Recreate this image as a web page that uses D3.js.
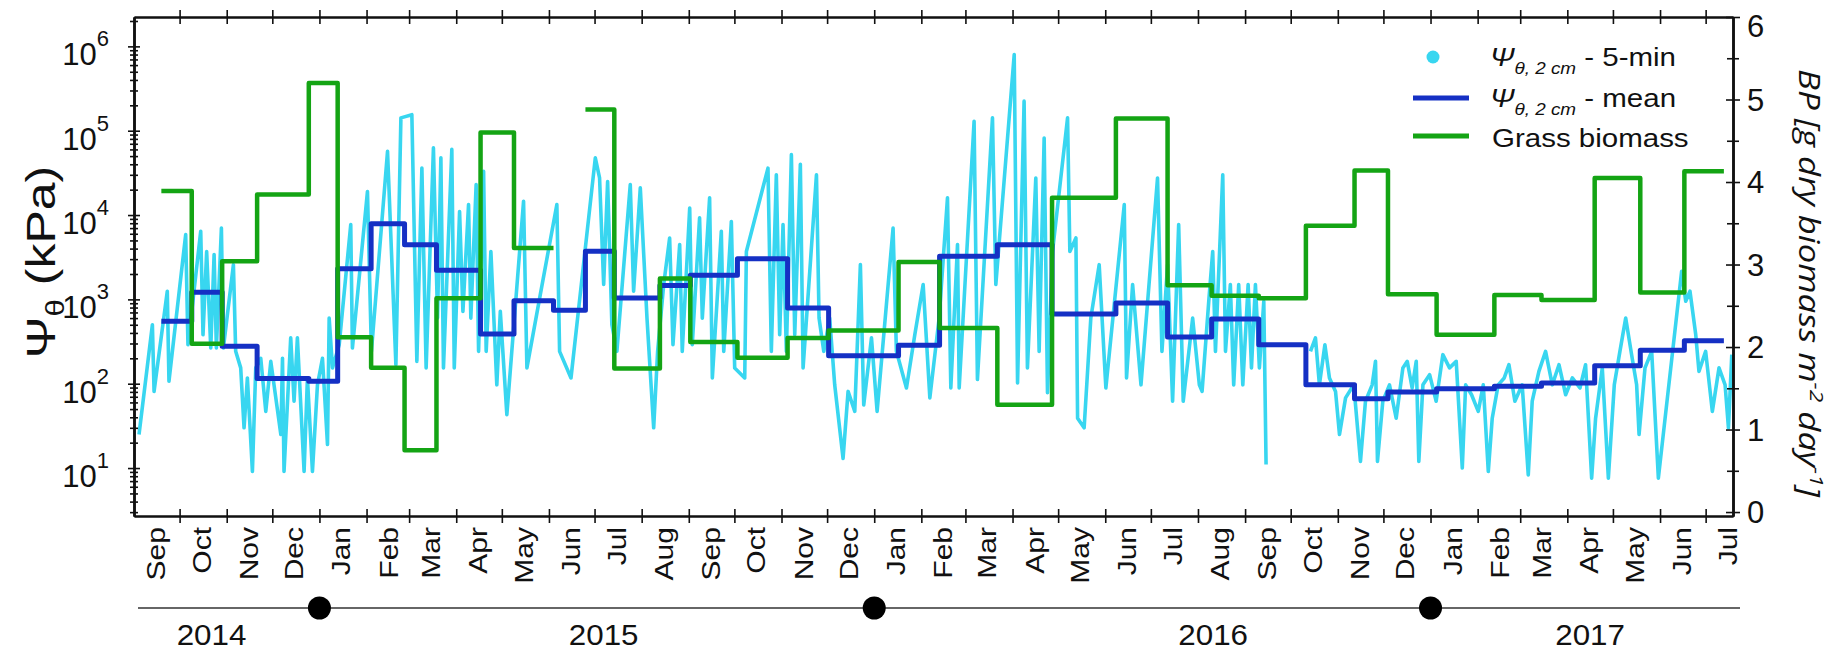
<!DOCTYPE html>
<html>
<head>
<meta charset="utf-8">
<script src="https://cdn.jsdelivr.net/npm/d3@7"></script>
<style>
  html, body { margin: 0; padding: 0; background: #ffffff; }
  svg { display: block; }
</style>
</head>
<body>
<svg id="chart" width="1845" height="653"></svg>
<script>
// ---- Time frame -----------------------------------------------------------
const recordStart = "2014-09-01";
const recordEnd = "2017-07-19";

// Sampling periods (boundaries) shared by the mean potential and the biomass series
const periodBounds = [
  "2014-09-19","2014-10-09","2014-10-29","2014-11-21","2014-12-25","2015-01-13",
  "2015-02-04","2015-02-26","2015-03-19","2015-04-17","2015-05-09","2015-06-04",
  "2015-06-25","2015-07-14","2015-08-13","2015-09-02","2015-10-03","2015-11-05",
  "2015-12-02","2016-01-17","2016-02-13","2016-03-22","2016-04-27","2016-06-08",
  "2016-07-12","2016-08-10","2016-09-10","2016-10-11","2016-11-12","2016-12-04",
  "2017-01-05","2017-02-12","2017-03-15","2017-04-19","2017-05-19","2017-06-17",
  "2017-07-13"
];

// Mean soil water potential at 2 cm for each period (kPa)
const meanKPa = [
  550, 1214, 278, 115, 107, 2312, 7907, 4457, 2213, 389, 966, 742,
  3717, 1040, 1462, 1932, 3040, 791, 215, 285, 3246, 4457, 671, 906,
  358, 585, 290, 97.3, 66.4, 79.7, 87.3, 93.1, 101.8, 163.6, 249, 324
];

// Grass biomass production for each period (g dry biomass m^-2 day^-1); null = no harvest
const biomassBP = [
  3.89, 2.04, 3.04, 3.85, 5.20, 2.12, 1.75, 0.75, 2.59, 4.60, 3.20, null,
  4.88, 1.74, 2.83, 2.06, 1.87, 2.11, 2.20, 3.03, 2.23, 1.30, 3.81, 4.77,
  2.75, 2.62, 2.59, 3.47, 4.14, 2.64, 2.15, 2.63, 2.57, 4.05, 2.66, 4.13
];

// 5-min potential record, turning points of the drying/wetting cycles
// (days since 2014-09-01, kPa); null marks a gap in the logger record
const cyanDay = [
  3.3,12.1,13.2,21.9,23.0,34.0,35.5,43.9,45.4,47.8,50.5,52.7,54.2,57.5,58.8,65.4,66.9,70.2,72.4,74.6,
  77.9,80.1,83.4,86.7,90.0,96.6,97.7,98.7,103.1,105.3,107.5,111.9,114.1,117.4,120.7,124.0,127.3,128.4,130.6,135.0,
  142.6,143.7,153.6,156.2,166.8,172.3,175.6,
  182.8,186.1,189.4,192.2,197.0,199.7,201.9,203.6,209.1,210.7,214.2,216.4,220.1,221.6,225.1,226.7,230.0,231.7,234.8,238.7,
  241.0,245.3,256.3,258.5,267.3,278.2,280.0,287.5,303.5,306.3,309.0,311.6,314.4,317.7,326.5,328.7,333.1,337.5,341.9,344.5,348.5,
  352.4,354.6,359.0,360.7,365.6,367.3,372.1,373.9,378.7,380.5,386.4,388.0,393.0,395.2,401.8,402.9,417.1,419.3,422.6,424.8,
  427.0,429.2,432.5,434.7,438.4,440.2,449.0,450.7,453.8,457.7,461.0,466.5,469.8,474.2,477.9,480.1,485.2,488.9,499.4,501.6,
  508.2,513.7,519.2,523.6,
  529.7,535.2,537.4,541.8,542.9,552.7,554.9,564.8,567.0,579.1,581.3,585.6,587.8,593.3,595.5,598.8,601.0,604.3,614.2,615.7,
  619.7,620.8,625.1,629.5,635.0,639.4,651.5,653.0,657.0,662.5,673.4,676.3,680.0,683.3,687.3,690.3,696.5,700.9,
  702.7,707.1,709.7,711.5,716.3,718.1,721.3,723.5,726.8,729.5,733.0,735.2,737.8,740.4,743.3,744.8,760.0,774.0,777.3,779.9,
  783.5,786.5,790.5,793.1,797.1,802.5,806.9,810.2,814.6,816.8,818.1,821.6,826.0,830.4,834.8,837.7,840.9,843.6,845.3,848.0,
  852.4,856.7,861.1,865.5,869.9,873.9,876.1,
  880.0,884.4,887.7,891.0,893.6,897.5,901.5,904.6,908.5,913.3,917.3,919.9,924.3,928.7,933.1,937.5,941.9,946.3,951.3,955.0,
  959.0,961.6,966.0,970.0,973.9,977.6,981.4,985.3,988.6,990.2,994.1,998.5,1002.9,1018.2,1020.9,1023.7,1027.5,1029.6,1034.0,1038.4,
  1042.8,1046.8,1049.0,1051.2
];
const cyanKPa = [
  25,500,81,1250,107,5860,290,6420,380,3700,265,3400,265,7000,265,2580,242,154,30,117,
  9.1,154,200,47,184,25,200,9.1,350,62,350,9.1,117,9.1,97,200,19,600,154,290,
  7700,265,19000,242,57000,168,142000,
  155000,184,36000,154,62500,600,47600,154,60000,154,11000,720,13300,600,23000,242,33000,242,3700,97,
  720,43,14600,154,1140,13300,242,117,47600,27500,1500,25000,500,242,23000,1250,21000,600,30,242,1500,
  5350,290,4460,242,12100,290,9250,600,16000,117,6400,242,8400,154,117,3700,36000,242,30000,380,
  7700,242,52000,380,40000,154,30000,600,242,600,97,13,81,47,2580,56,350,47,7000,242,
  89,380,1500,68,
  600,16000,89,4460,89,129000,112,142000,1500,800000,102,224000,154,27500,242,82000,78,3700,142000,3700,
  5350,39,30,600,2580,89,13300,117,1500,97,27500,242,2580,62,7700,62,600,97,
  81,950,3700,242,30000,242,1500,97,1500,97,1500,154,1500,154,950,11,null,242,350,97,
  290,117,81,25,68,97,12,62,97,184,12,62,97,39,154,184,89,184,12,97,
  128,62,221,154,184,10,97,
  74,47,97,9.1,39,97,117,168,62,97,8.3,62,140,242,97,168,74,117,89,168,
  7.6,39,154,7.6,97,242,600,221,97,25,154,242,7.6,2150,950,1250,380,140,242,47,
  154,97,30,221
];

// Axis ticks
const leftMajorTicks = [1e1, 1e2, 1e3, 1e4, 1e5, 1e6];
const leftExponents = ["1", "2", "3", "4", "5", "6"];
const rightTicks = [0, 1, 2, 3, 4, 5, 6];
const rightMinorTicks = [0.5, 1.5, 2.5, 3.5, 4.5, 5.5];
const monthNames = ["Jan","Feb","Mar","Apr","May","Jun","Jul","Aug","Sep","Oct","Nov","Dec"];

// Year strip below the month axis
const yearNames = ["2014", "2015", "2016", "2017"];
const yearLabelDates = ["2014-10-22", "2015-07-07", "2016-08-11", "2017-04-16"];
const yearMarkerDates = ["2015-01-01", "2016-01-01", "2017-01-01"];

// ---- Layout ---------------------------------------------------------------
const plot = { left: 134, right: 1733, top: 17, bottom: 516 };
const colors = { fiveMin: "#38d6f0", mean: "#1530c4", biomass: "#14a414", axis: "#111111" };
const font = "'Liberation Sans', Arial, sans-serif";

const svg = d3.select("#chart");
const parse = d3.utcParse("%Y-%m-%d");
const t0 = parse(recordStart), t1 = parse(recordEnd);

const x = d3.scaleUtc().domain([t0, t1]).range([plot.left, plot.right]);
const yLeft = d3.scaleLog().domain([2.70, 2.23e6]).range([plot.bottom, plot.top]);
const yRight = d3.scaleLinear().domain([-0.048, 6]).range([plot.bottom, plot.top]);

svg.append("defs").append("clipPath").attr("id", "plot-clip")
  .append("rect")
  .attr("x", plot.left).attr("y", plot.top)
  .attr("width", plot.right - plot.left).attr("height", plot.bottom - plot.top);

const marks = svg.append("g").attr("clip-path", "url(#plot-clip)");

// ---- 5-min record -----------------------------------------------------------
const fiveMin = cyanDay.map((d, i) => ({ t: new Date(t0.getTime() + d * 864e5), v: cyanKPa[i] }));
marks.append("path")
  .datum(fiveMin)
  .attr("fill", "none")
  .attr("stroke", colors.fiveMin)
  .attr("stroke-width", 3.6)
  .attr("stroke-linejoin", "round")
  .attr("d", d3.line().defined(d => d.v != null).x(d => x(d.t)).y(d => yLeft(d.v)));

// ---- Step series ----------------------------------------------------------
function stepPoints(values) {
  const pts = [];
  values.forEach((v, i) => {
    if (v == null) { pts.push({ t: parse(periodBounds[i]), v: null }); return; }
    pts.push({ t: parse(periodBounds[i]), v });
    pts.push({ t: parse(periodBounds[i + 1]), v });
  });
  return pts;
}

marks.append("path")
  .datum(stepPoints(meanKPa))
  .attr("fill", "none")
  .attr("stroke", colors.mean)
  .attr("stroke-width", 5)
  .attr("stroke-linejoin", "round")
  .attr("d", d3.line().defined(d => d.v != null).x(d => x(d.t)).y(d => yLeft(d.v)));

marks.append("path")
  .datum(stepPoints(biomassBP))
  .attr("fill", "none")
  .attr("stroke", colors.biomass)
  .attr("stroke-width", 4.5)
  .attr("stroke-linejoin", "round")
  .attr("d", d3.line().defined(d => d.v != null).x(d => x(d.t)).y(d => yRight(d.v)));

// ---- Axes -----------------------------------------------------------------
const monthStarts = d3.utcMonth.range(d3.utcMonth.offset(t0, 1), t1);

function crossTicks(axisA, axisB, transform) {
  const g = svg.append("g").attr("transform", transform);
  g.append("g").call(axisA);
  g.append("g").call(axisB);
  g.selectAll("path.domain").attr("stroke", colors.axis).attr("stroke-width", 2);
  g.selectAll(".tick line").attr("stroke", colors.axis).attr("stroke-width", 1.6);
  return g;
}

// bottom & top month ticks
[plot.bottom, plot.top].forEach(yPos => {
  crossTicks(
    d3.axisBottom(x).tickValues(monthStarts).tickSize(7).tickSizeOuter(0).tickFormat(""),
    d3.axisTop(x).tickValues(monthStarts).tickSize(7).tickSizeOuter(0).tickFormat(""),
    `translate(0,${yPos})`
  );
});

// left log axis (major + minor ticks)
const leftMinor = [];
for (let e = 0; e <= 6; e++) {
  for (let m = 2; m <= 9; m++) {
    const v = m * Math.pow(10, e);
    if (v >= yLeft.domain()[0] && v <= yLeft.domain()[1]) leftMinor.push(v);
  }
}
crossTicks(
  d3.axisLeft(yLeft).tickValues(leftMajorTicks).tickSize(6).tickSizeOuter(0).tickFormat(""),
  d3.axisRight(yLeft).tickValues(leftMajorTicks).tickSize(6).tickSizeOuter(0).tickFormat(""),
  `translate(${plot.left},0)`
);
crossTicks(
  d3.axisLeft(yLeft).tickValues(leftMinor).tickSize(4).tickSizeOuter(0).tickFormat(""),
  d3.axisRight(yLeft).tickValues(leftMinor).tickSize(4).tickSizeOuter(0).tickFormat(""),
  `translate(${plot.left},0)`
);

// right linear axis
crossTicks(
  d3.axisLeft(yRight).tickValues(rightTicks).tickSize(7).tickSizeOuter(0).tickFormat(""),
  d3.axisRight(yRight).tickValues(rightTicks).tickSize(7).tickSizeOuter(0).tickFormat(""),
  `translate(${plot.right},0)`
);
crossTicks(
  d3.axisLeft(yRight).tickValues(rightMinorTicks).tickSize(6).tickSizeOuter(0).tickFormat(""),
  d3.axisRight(yRight).tickValues(rightMinorTicks).tickSize(6).tickSizeOuter(0).tickFormat(""),
  `translate(${plot.right},0)`
);

// ---- Tick labels ----------------------------------------------------------
const leftLabels = svg.append("g").attr("font-family", font).attr("fill", "#111");
leftMajorTicks.forEach((v, i) => {
  const t = leftLabels.append("text")
    .attr("x", plot.left - 25)
    .attr("y", yLeft(v) + 19)
    .attr("text-anchor", "end")
    .attr("font-size", 31);
  t.append("tspan").text("10");
  t.append("tspan").attr("font-size", 22).attr("dy", -19).text(leftExponents[i]);
});

const rightLabels = svg.append("g").attr("font-family", font).attr("fill", "#111");
rightTicks.forEach(v => {
  rightLabels.append("text")
    .attr("x", plot.right + 14)
    .attr("y", Math.max(yRight(v), plot.top + 9))
    .attr("dy", "0.36em")
    .attr("font-size", 31)
    .text(v);
});

// month labels, centred mid-month and rotated
const monthMids = monthStarts.map(d => d3.utcDay.offset(d3.utcMonth.offset(d, -1), 15));
monthMids.push(d3.utcDay.offset(monthStarts[monthStarts.length - 1], 15));
svg.append("g")
  .attr("font-family", font).attr("fill", "#111")
  .selectAll("text")
  .data(monthMids)
  .join("text")
  .attr("transform", d => `translate(${x(d)},${plot.bottom + 11}) rotate(-90) scale(1.2,1)`)
  .attr("text-anchor", "end")
  .attr("dy", "0.33em")
  .attr("font-size", 25)
  .text(d => monthNames[d.getUTCMonth()]);

// ---- Axis titles ----------------------------------------------------------
const leftTitle = svg.append("text")
  .attr("transform", `translate(55,262) rotate(-90) scale(1.25,1)`)
  .attr("text-anchor", "middle")
  .attr("font-family", font)
  .attr("font-size", 40)
  .attr("fill", "#111");
leftTitle.append("tspan").text("Ψ");
leftTitle.append("tspan").attr("font-size", 25).attr("dy", 9).text("θ");
leftTitle.append("tspan").attr("dy", -9).text(" (kPa)");

const rightTitle = svg.append("text")
  .attr("transform", `translate(1799,283) rotate(90) scale(1.2,1)`)
  .attr("text-anchor", "middle")
  .attr("font-family", "'Open Sans', 'Noto Sans', sans-serif")
  .attr("font-style", "italic")
  .attr("font-size", 29)
  .attr("fill", "#111");
rightTitle.append("tspan").text("BP [g dry biomass m");
rightTitle.append("tspan").attr("font-size", 19).attr("dy", -11).text("-2");
rightTitle.append("tspan").attr("dy", 11).text(" day");
rightTitle.append("tspan").attr("font-size", 19).attr("dy", -11).text("-1");
rightTitle.append("tspan").attr("dy", 11).text("]");

// ---- Legend ---------------------------------------------------------------
const legend = svg.append("g").attr("font-family", font).attr("fill", "#111");
legend.append("circle").attr("cx", 1433).attr("cy", 57).attr("r", 6.5).attr("fill", colors.fiveMin);
legend.append("line").attr("x1", 1413).attr("x2", 1469).attr("y1", 98).attr("y2", 98)
  .attr("stroke", colors.mean).attr("stroke-width", 5);
legend.append("line").attr("x1", 1413).attr("x2", 1469).attr("y1", 136).attr("y2", 136)
  .attr("stroke", colors.biomass).attr("stroke-width", 5);

function psiLabel(yBase, suffix) {
  const t = legend.append("text")
    .attr("transform", `translate(1490,${yBase}) scale(1.18,1)`)
    .attr("font-size", 25);
  t.append("tspan").attr("font-style", "italic").text("Ψ");
  t.append("tspan").attr("font-style", "italic").attr("font-size", 16).attr("dy", 8).text("θ, 2 cm");
  t.append("tspan").attr("dy", -8).text(" - " + suffix);
}
psiLabel(66, "5-min");
psiLabel(107, "mean");
legend.append("text")
  .attr("transform", `translate(1492,147) scale(1.18,1)`)
  .attr("font-size", 25)
  .text("Grass biomass");

// ---- Year strip -----------------------------------------------------------
const strip = svg.append("g");
strip.append("line")
  .attr("x1", plot.left + 4).attr("x2", plot.right + 7)
  .attr("y1", 608).attr("y2", 608)
  .attr("stroke", "#333").attr("stroke-width", 1.6);
strip.selectAll("circle")
  .data(yearMarkerDates)
  .join("circle")
  .attr("cx", d => x(parse(d)))
  .attr("cy", 608)
  .attr("r", 11.5)
  .attr("fill", "#000");
strip.selectAll("text")
  .data(yearNames)
  .join("text")
  .attr("transform", (d, i) => `translate(${x(parse(yearLabelDates[i]))},645) scale(1.08,1)`)
  .attr("text-anchor", "middle")
  .attr("font-family", font)
  .attr("font-size", 29)
  .attr("fill", "#111")
  .text(d => d);
</script>
</body>
</html>
